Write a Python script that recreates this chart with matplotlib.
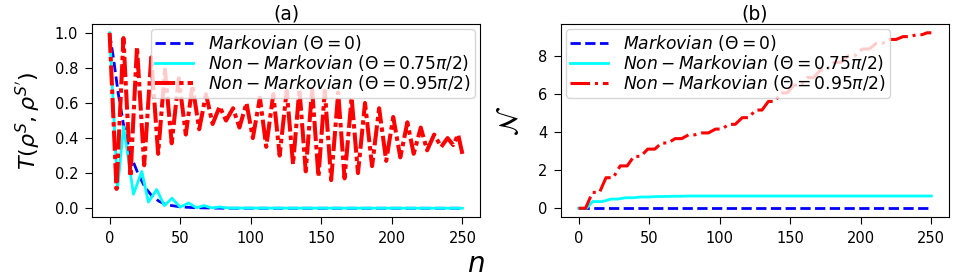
import matplotlib
matplotlib.use("Agg")
import matplotlib.pyplot as plt
import numpy as np

# ---------------- data ----------------
# Panel (a): trace distance T(rho^S, rho^S') vs n
mk_n = [0, 3, 6, 10, 15, 20, 25, 30, 35, 40, 50, 60, 80, 250]
mk_T = [1.0, 0.84, 0.66, 0.47, 0.30, 0.20, 0.12, 0.07, 0.04, 0.02, 0.008, 0.003, 0.0, 0.0]

# cyan (Theta = 0.75 pi/2): extrema (start, trough, peak, trough, ...)
cy_n = [0, 5.6, 9.9, 16.9, 22.8, 27.5, 33.4, 38.8, 44.2, 50, 56, 61.5, 67, 72.5, 78, 85, 250]
cy_T = [1.0, 0.11, 0.465, 0.08, 0.21, 0.035, 0.107, 0.015, 0.057, 0.006, 0.03, 0.003,
        0.015, 0.002, 0.007, 0.001, 0.0]

# red (Theta = 0.95 pi/2): extrema (start, trough, peak, trough, ...)
rd_n = [0, 4.9, 9.8, 14.8, 19.4, 24.5, 29.5, 34.4, 39.2, 44,
        49, 54, 58.7, 63.5, 68.3, 73, 78, 82.5, 87.5, 92,
        97, 101.5, 106.5, 111, 116, 120.5, 125.5, 130, 134.5, 139,
        143.5, 148, 152.5, 157, 162, 166.5, 171.5, 176, 181, 186,
        191, 196, 201, 206, 211, 215.5, 220.5, 225, 230, 235,
        239.5, 243.5, 247, 250]
rd_T = [1.0, 0.11, 0.97, 0.18, 0.92, 0.245, 0.86, 0.31, 0.79, 0.37,
        0.74, 0.42, 0.70, 0.45, 0.65, 0.48, 0.58, 0.50, 0.57, 0.46,
        0.60, 0.40, 0.63, 0.35, 0.65, 0.30, 0.67, 0.25, 0.68, 0.21,
        0.68, 0.18, 0.67, 0.16, 0.66, 0.17, 0.63, 0.20, 0.60, 0.24,
        0.57, 0.27, 0.52, 0.29, 0.49, 0.31, 0.46, 0.33, 0.42, 0.35,
        0.40, 0.36, 0.42, 0.31]

# Panel (b): non-Markovianity N after each rise (value reached at each peak)
mk_N_n = [0, 250]
mk_N = [0.0, 0.0]
cy_N_peaks = [0.35, 0.48, 0.55, 0.59, 0.615, 0.63, 0.64]
rd_N_peaks = [0.83, 1.6, 2.22, 2.72, 3.1, 3.42, 3.65, 3.85, 3.95, 4.15,
              4.4, 4.75, 5.15, 5.6, 6.05, 6.45, 6.85, 7.25, 7.65, 8.0,
              8.35, 8.65, 8.85, 9.0, 9.1, 9.2]

labels = [r"$Markovian\ (\Theta=0)$",
          r"$Non-Markovian\ (\Theta=0.75\pi/2)$",
          r"$Non-Markovian\ (\Theta=0.95\pi/2)$"]
titles = ["(a)", "(b)"]


def steps(ext_n, peaks_N):
    """N stays flat from a peak to the next trough, rises from trough to peak."""
    xs, ys = [0.0], [0.0]
    cur = 0.0
    k = 0
    for i in range(1, len(ext_n) - 1, 2):
        if k >= len(peaks_N):
            break
        xs.append(ext_n[i]); ys.append(cur)
        cur = peaks_N[k]; k += 1
        xs.append(ext_n[i + 1]); ys.append(cur)
    xs.append(250); ys.append(cur)
    return xs, ys


fig = plt.figure(figsize=(9.57, 2.78), dpi=100)
ax1 = fig.add_axes([0.0961, 0.2194, 0.4055, 0.6942])
ax2 = fig.add_axes([0.5862, 0.2194, 0.4054, 0.6942])

leg_kw = dict(fontsize=12.3, borderaxespad=0.3, handlelength=2.2, handletextpad=0.9,
              labelspacing=0.0, borderpad=0.25)

ax1.plot(mk_n, mk_T, color="blue", ls="--", lw=2, label=labels[0])
ax1.plot(cy_n, cy_T, color="cyan", ls="-", lw=2, label=labels[1])
ax1.plot(rd_n, rd_T, color="red", ls=(0, (5, 1.0, 1.1, 1.0)), lw=2.9,
         solid_joinstyle="round", dash_joinstyle="round", label=labels[2])
ax1.set_title(titles[0], fontsize=13.5, pad=3)
ax1.set_ylabel(r"$T(\rho^S,\rho^{S'})$", fontsize=16, labelpad=9)
ax1.legend(loc="upper right", **leg_kw)
ax1.set_yticks([0.0, 0.2, 0.4, 0.6, 0.8, 1.0])

cx, cyv = steps(cy_n, cy_N_peaks)
rx, ryv = steps(rd_n, rd_N_peaks)
ax2.plot(mk_N_n, mk_N, color="blue", ls="--", lw=2, label=labels[0])
ax2.plot(cx, cyv, color="cyan", ls="-", lw=2, label=labels[1])
ax2.plot(rx, ryv, color="red", ls="-.", lw=2.2, label=labels[2])
ax2.set_title(titles[1], fontsize=13.5, pad=3)
ax2.set_ylabel(r"$\mathcal{N}$", fontsize=19, labelpad=10)
ax2.legend(loc="upper left", **leg_kw)
ax2.set_yticks([0, 2, 4, 6, 8])

for ax in (ax1, ax2):
    ax.set_xticks([0, 50, 100, 150, 200, 250])
    ax.tick_params(labelsize=10.5, length=5, pad=5)

fig.text(0.497, 0.05, r"$n$", fontsize=20, ha="center", va="center")

fig.savefig("out.png", dpi=100)
